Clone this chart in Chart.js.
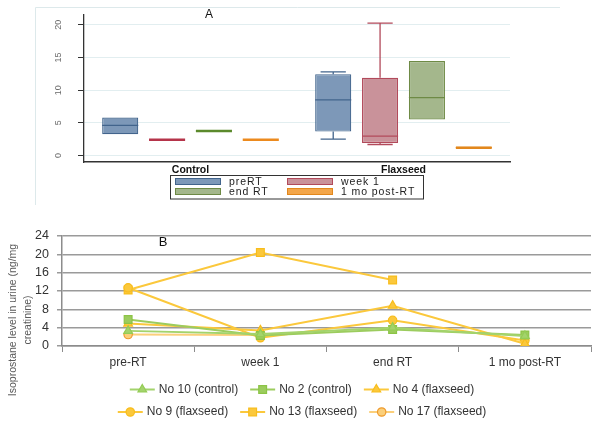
<!DOCTYPE html>
<html>
<head>
<meta charset="utf-8">
<script src="https://cdn.jsdelivr.net/npm/chart.js@4.4.0/dist/chart.umd.min.js"></script>
<style>
  body { margin: 0; background: #fff; }
  #wrapA { position: absolute; left: 0; top: 0; width: 604px; height: 205px; }
  #wrapB { position: absolute; left: 0; top: 210px; width: 604px; height: 216px; }
</style>
</head>
<body>
<div id="wrapA"><canvas id="boxChart"></canvas></div>
<div id="wrapB"><canvas id="lineChart"></canvas></div>
<script>
// ---- panel A: box plot summaries, [timepoint][control, flaxseed]
const groups = ['Control', 'Flaxseed'];
const timeLabels = ['preRT', 'week 1', 'end RT', '1 mo post-RT'];
const boxQ1 = [[3.25, 3.65], [2.4, 1.9], [3.75, 5.5], [2.4, 1.0]];
const boxMed = [[4.6, 8.5], [2.4, 2.95], [3.75, 8.85], [2.4, 1.2]];
const boxQ3 = [[5.8, 12.45], [2.4, 11.9], [3.75, 14.45], [2.4, 1.4]];
const whiskLo = [[3.25, 2.5], [2.4, 1.68], [3.75, 5.5], [2.4, 1.0]];
const whiskHi = [[5.8, 12.8], [2.4, 20.25], [3.75, 14.45], [2.4, 1.4]];
const yTicksA = [0, 5, 10, 15, 20];

// ---- panel B: individual patients
const timePoints = ['pre-RT', 'week 1', 'end RT', '1 mo post-RT'];
const no10 = [3.3, 2.6, 4.0, 2.2];
const no2 = [5.8, 2.3, 3.6, 2.4];
const no4 = [4.9, 3.4, 8.8, 0.5];
const no9 = [12.7, 1.8, 5.6, 1.2];
const no13 = [12.2, 20.4, 14.4, null];
const no17 = [2.5, 2.4, null, null];

const boxFill = ['#7d98b8', '#c9929a', '#a4b78c', '#f3a64a'];
const boxEdge = ['#42648c', '#b24a5b', '#6e8a45', '#e2871c'];
const flatEdge = ['#42648c', '#b5344a', '#5b8a2c', '#ec8a1e'];

const boxExtras = {
  id: 'boxExtras',
  beforeDraw(chart) {
    const c = chart.ctx;
    c.save();
    c.strokeStyle = '#dde9eb';
    c.lineWidth = 1;
    c.beginPath();
    c.moveTo(35.5, 205); c.lineTo(35.5, 7.5); c.lineTo(560, 7.5);
    c.stroke();
    c.restore();
  },
  afterDatasetsDraw(chart) {
    const c = chart.ctx;
    const y = chart.scales.y;
    c.save();
    chart.data.datasets.forEach((ds, i) => {
      chart.getDatasetMeta(i).data.forEach((bar, j) => {
        const half = bar.width / 2;
        const flat = boxQ3[i][j] - boxQ1[i][j] < 0.2;
        c.strokeStyle = flat ? flatEdge[i] : boxEdge[i];
        c.lineWidth = flat ? 2.5 : 1.3;
        const ym = y.getPixelForValue(boxMed[i][j]);
        c.beginPath();
        c.moveTo(bar.x - half, ym); c.lineTo(bar.x + half, ym);
        c.stroke();
        c.lineWidth = 1.3;
        const cap = bar.width * 0.35;
        if (whiskHi[i][j] > boxQ3[i][j]) {
          const a = y.getPixelForValue(boxQ3[i][j]), b = y.getPixelForValue(whiskHi[i][j]);
          c.beginPath();
          c.moveTo(bar.x, a); c.lineTo(bar.x, b);
          c.moveTo(bar.x - cap, b); c.lineTo(bar.x + cap, b);
          c.stroke();
        }
        if (whiskLo[i][j] < boxQ1[i][j]) {
          const a = y.getPixelForValue(boxQ1[i][j]), b = y.getPixelForValue(whiskLo[i][j]);
          c.beginPath();
          c.moveTo(bar.x, a); c.lineTo(bar.x, b);
          c.moveTo(bar.x - cap, b); c.lineTo(bar.x + cap, b);
          c.stroke();
        }
      });
    });
    c.restore();
  },
  afterDraw(chart) {
    const c = chart.ctx;
    const y = chart.scales.y;
    c.save();
    // rotated y tick labels
    c.fillStyle = '#6a6a6a';
    c.font = '9px "Liberation Sans"';
    c.textAlign = 'center';
    c.textBaseline = 'middle';
    yTicksA.forEach(v => {
      c.save();
      c.translate(59, y.getPixelForValue(v));
      c.rotate(-Math.PI / 2);
      c.fillText(String(v), 0, 0);
      c.restore();
    });
    // panel letter
    c.fillStyle = '#111';
    c.font = '12px "Liberation Sans"';
    c.fillText('A', 209, 15);
    // legend
    c.strokeStyle = '#333';
    c.lineWidth = 1;
    c.strokeRect(170.5, 175.5, 253, 23.5);
    c.font = '10.5px "Liberation Sans"';
    c.letterSpacing = '0.9px';
    c.textAlign = 'left';
    const cols = [175, 287], rows = [178, 188];
    chart.data.datasets.forEach((ds, i) => {
      const x = cols[i % 2], top = rows[Math.floor(i / 2)];
      c.fillStyle = boxFill[i];
      c.fillRect(x, top, 46, 7);
      c.strokeStyle = boxEdge[i];
      c.strokeRect(x + 0.5, top + 0.5, 45, 6);
      c.fillStyle = '#222';
      c.fillText(ds.label, x + 54, top + 4);
    });
    c.restore();
  }
};

new Chart(document.getElementById('boxChart'), {
  type: 'bar',
  data: {
    labels: groups,
    datasets: timeLabels.map((t, i) => ({
      label: t,
      data: groups.map((g, j) => [boxQ1[i][j], boxQ3[i][j]]),
      backgroundColor: boxFill[i],
      borderColor: boxEdge[i],
      borderWidth: 1.2,
      borderSkipped: false,
      categoryPercentage: 0.88,
      barPercentage: 0.77
    }))
  },
  options: {
    responsive: true,
    maintainAspectRatio: false,
    animation: false,
    layout: { padding: { left: 0, right: 94, top: 15, bottom: 29 } },
    plugins: { legend: { display: false }, tooltip: { enabled: false } },
    scales: {
      x: {
        grid: { display: false },
        border: { display: true, color: '#333', width: 1.5 },
        ticks: { color: '#111', font: { size: 10.5, weight: 'bold', family: 'Liberation Sans' }, padding: -6 },
        afterFit: s => { s.height = 14; }
      },
      y: {
        min: -1,
        max: 21.5,
        afterBuildTicks: s => { s.ticks = yTicksA.map(v => ({ value: v })); },
        afterFit: s => { s.width = 84; },
        grid: { color: '#e2eef0', tickColor: '#333', tickLength: 6 },
        border: { display: true, color: '#333', width: 1.3 },
        ticks: { display: false }
      }
    }
  },
  plugins: [boxExtras]
});

// ---- panel B
const patients = [
  { label: 'No 10 (control)', data: no10, color: '#a3d36c', edge: '#94cc55', style: 'triangle', r: 5 },
  { label: 'No 2 (control)', data: no2, color: '#9ccc5e', edge: '#8cc446', style: 'rect', r: 5.5 },
  { label: 'No 4 (flaxseed)', data: no4, color: '#fbc83c', edge: '#f8bd1c', style: 'triangle', r: 5 },
  { label: 'No 9 (flaxseed)', data: no9, color: '#fbc83c', edge: '#f8bd1c', style: 'circle', r: 4.2 },
  { label: 'No 13 (flaxseed)', data: no13, color: '#fbc83c', edge: '#f8bd1c', style: 'rect', r: 5.5 },
  { label: 'No 17 (flaxseed)', data: no17, color: '#fbcf7a', edge: '#ee9a2c', style: 'circle', r: 4.2 }
];

const lineExtras = {
  id: 'lineExtras',
  afterDraw(chart) {
    const c = chart.ctx;
    c.save();
    // y axis title
    c.fillStyle = '#595959';
    c.font = '10.5px "Liberation Sans"';
    c.textAlign = 'center';
    c.textBaseline = 'middle';
    c.save();
    c.translate(13, 110);
    c.rotate(-Math.PI / 2);
    c.fillText('Isoprostane level in urine (ng/mg', 0, 0);
    c.fillText('creatinine)', 0, 15);
    c.restore();
    // panel letter
    c.fillStyle = '#111';
    c.font = '13px "Liberation Sans"';
    c.fillText('B', 163, 32);
    // legend: two rows of three, centred
    c.font = '12px "Liberation Sans"';
    c.textAlign = 'left';
    const rowsY = [179.5, 202];
    const lineLen = 25, gap = 12;
    [0, 1].forEach(r => {
      const items = chart.data.datasets.slice(r * 3, r * 3 + 3);
      const widths = items.map(ds => lineLen + 4 + c.measureText(ds.label).width);
      const total = widths.reduce((a, b) => a + b, 0) + gap * (items.length - 1);
      let x = 302 - total / 2;
      items.forEach((ds, k) => {
        const yy = rowsY[r];
        c.strokeStyle = ds.borderColor;
        c.lineWidth = 2;
        c.beginPath();
        c.moveTo(x, yy); c.lineTo(x + lineLen, yy);
        c.stroke();
        c.fillStyle = ds.pointBackgroundColor;
        c.strokeStyle = ds.pointBorderColor;
        c.lineWidth = 1.2;
        Chart.helpers.drawPoint(c, {
          pointStyle: ds.pointStyle, radius: ds.pointRadius, borderWidth: 1.2, rotation: 0
        }, x + lineLen / 2, yy);
        c.fillStyle = '#333';
        c.fillText(ds.label, x + lineLen + 4, yy);
        x += widths[k] + gap;
      });
    });
    c.restore();
  }
};

new Chart(document.getElementById('lineChart'), {
  type: 'line',
  data: {
    labels: timePoints,
    datasets: patients.map(p => ({
      label: p.label,
      data: p.data,
      borderColor: p.color,
      backgroundColor: p.color,
      pointBackgroundColor: p.color,
      pointBorderColor: p.edge,
      pointBorderWidth: 1.2,
      pointStyle: p.style,
      pointRadius: p.r,
      borderWidth: 2,
      spanGaps: false,
      tension: 0
    }))
  },
  options: {
    responsive: true,
    maintainAspectRatio: false,
    animation: false,
    layout: { padding: { left: 0, right: 13, top: 26, bottom: 55 } },
    plugins: { legend: { display: false }, tooltip: { enabled: false } },
    scales: {
      x: {
        offset: true,
        grid: { offset: true, drawOnChartArea: false, tickLength: 6, color: '#8c8c8c' },
        border: { color: '#8c8c8c', width: 1.5 },
        ticks: { color: '#333', font: { size: 12, family: 'Liberation Sans' }, padding: 3 },
        afterFit: s => { s.height = 25; }
      },
      y: {
        min: 0,
        max: 24,
        ticks: { stepSize: 4, color: '#333', font: { size: 12.5, family: 'Liberation Sans' }, padding: 8 },
        grid: { color: '#9a9a9a', lineWidth: 1.5, tickLength: 5 },
        border: { color: '#8c8c8c', width: 1.5 },
        afterFit: s => { s.width = 62; }
      }
    }
  },
  plugins: [lineExtras]
});
</script>
</body>
</html>
